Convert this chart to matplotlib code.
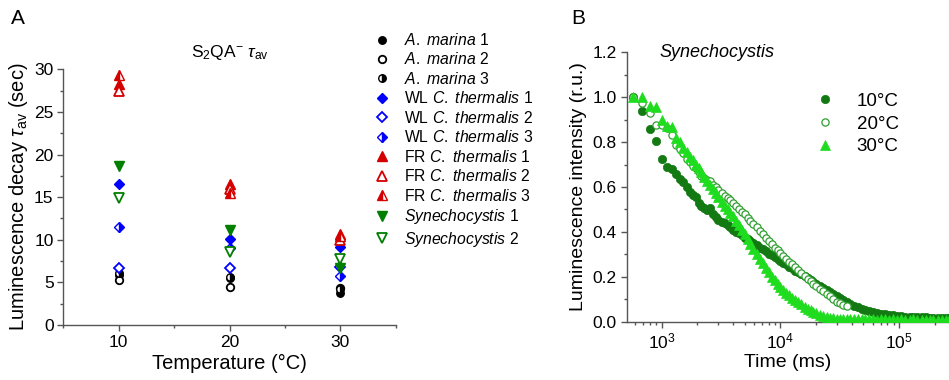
import matplotlib
matplotlib.use("Agg")
import matplotlib.pyplot as plt
from matplotlib.ticker import MultipleLocator, LogLocator, NullFormatter

plt.rcParams['font.family'] = ['Liberation Sans', 'DejaVu Sans']
plt.rcParams['mathtext.fontset'] = 'custom'
plt.rcParams['mathtext.rm'] = 'Liberation Sans'
plt.rcParams['mathtext.it'] = 'Liberation Sans:italic'
plt.rcParams['mathtext.bf'] = 'Liberation Sans:bold'

# ---------------- Panel A data ----------------
temps = [10, 20, 30]
am1 = [5.9, 5.5, 3.8]
am2 = [5.3, 4.5, 4.4]
am3 = [6.1, 5.6, 4.2]
wl1 = [16.6, 10.1, 9.1]
wl2 = [6.7, 6.7, 6.8]
wl3 = [11.5, 9.0, 5.7]
fr1 = [28.3, 16.6, 10.7]
fr2 = [27.5, 16.0, 10.0]
fr3 = [29.3, 15.5, 10.4]
syn1 = [18.6, 11.1, 6.7]
syn2 = [14.9, 8.6, 7.7]

labels_A = [r"$\it{A.\ marina}$ 1", r"$\it{A.\ marina}$ 2", r"$\it{A.\ marina}$ 3",
            r"WL $\it{C.\ thermalis}$ 1", r"WL $\it{C.\ thermalis}$ 2", r"WL $\it{C.\ thermalis}$ 3",
            r"FR $\it{C.\ thermalis}$ 1", r"FR $\it{C.\ thermalis}$ 2", r"FR $\it{C.\ thermalis}$ 3",
            r"$\it{Synechocystis}$ 1", r"$\it{Synechocystis}$ 2"]

# ---------------- Panel B data ----------------
time_ms = [570, 680, 790, 890, 1000, 1100, 1210, 1310, 1420, 1520,
           1630, 1730, 1840, 1940, 2050, 2150, 2260, 2400, 2550, 2700,
           2850, 3000, 3200, 3400, 3600, 3800, 4000, 4250, 4500, 4750,
           5000, 5300, 5600, 5900, 6300, 6700, 7100, 7500, 8000, 8500,
           9000, 9500, 10000, 10600, 11200, 11900, 12600, 13400, 14200, 15000,
           16000, 17000, 18000, 19000, 20000, 21500, 23000, 24500, 26000, 28000,
           30000, 32000, 34000, 36500, 39000, 42000, 45000, 49000, 52000, 55600,
           60000, 65000, 70000, 76000, 82000, 89000, 96000, 104000, 113000, 123000,
           132000, 143000, 155000, 168000, 181000, 195000, 213000, 230000, 250000, 265000]

lum_10C = [1.0, 0.94, 0.858, 0.806, 0.725, 0.688, 0.679, 0.66, 0.634, 0.624,
           0.60, 0.579, 0.565, 0.554, 0.53, 0.515, 0.505, 0.498, 0.505, 0.48,
           0.468, 0.455, 0.445, 0.44, 0.43, 0.423, 0.41, 0.40, 0.394, 0.385,
           0.375, 0.368, 0.358, 0.35, 0.34, 0.33, 0.322, 0.313, 0.303, 0.295,
           0.287, 0.279, 0.27, 0.262, 0.255, 0.245, 0.238, 0.228, 0.22, 0.212,
           0.203, 0.195, 0.185, 0.177, 0.17, 0.16, 0.15, 0.14, 0.132, 0.122,
           0.113, 0.104, 0.096, 0.087, 0.079, 0.071, 0.064, 0.057, 0.052, 0.047,
           0.043, 0.039, 0.036, 0.033, 0.03, 0.028, 0.026, 0.025, 0.023, 0.022,
           0.021, 0.02, 0.019, 0.019, 0.018, 0.018, 0.017, 0.017, 0.017, 0.016]

lum_20C = [1.0, 0.975, 0.93, 0.876, 0.878, 0.865, 0.83, 0.785, 0.77, 0.75,
           0.725, 0.71, 0.695, 0.685, 0.665, 0.65, 0.64, 0.632, 0.625, 0.61,
           0.60, 0.585, 0.572, 0.56, 0.55, 0.54, 0.53, 0.515, 0.50, 0.49,
           0.478, 0.463, 0.45, 0.437, 0.42, 0.405, 0.39, 0.375, 0.36, 0.345,
           0.33, 0.318, 0.305, 0.292, 0.28, 0.268, 0.256, 0.243, 0.23, 0.218,
           0.205, 0.192, 0.18, 0.17, 0.16, 0.147, 0.135, 0.123, 0.113, 0.10,
           0.09, 0.082, 0.075, 0.068]

lum_30C = [1.0, 1.0, 0.96, 0.955, 0.90, 0.872, 0.869, 0.82, 0.80, 0.775,
           0.755, 0.735, 0.72, 0.70, 0.685, 0.665, 0.645, 0.625, 0.61, 0.59,
           0.575, 0.555, 0.535, 0.515, 0.50, 0.485, 0.47, 0.45, 0.43, 0.41,
           0.39, 0.37, 0.345, 0.325, 0.30, 0.28, 0.26, 0.24, 0.22, 0.20,
           0.185, 0.17, 0.155, 0.142, 0.13, 0.118, 0.107, 0.097, 0.087, 0.077,
           0.067, 0.058, 0.05, 0.043, 0.037, 0.03, 0.025, 0.021, 0.018, 0.015,
           0.013, 0.012, 0.011, 0.011, 0.010, 0.011, 0.010, 0.010, 0.011, 0.010,
           0.010, 0.009, 0.010, 0.010, 0.009, 0.010, 0.009, 0.010, 0.009, 0.009,
           0.010, 0.009, 0.009, 0.009, 0.009, 0.008, 0.009, 0.009, 0.008, 0.009]

# ---------------- Figure ----------------
fig = plt.figure(figsize=(9.49, 3.8), dpi=100)
spine_c = '#555555'

axA = fig.add_axes([0.0667, 0.1447, 0.3503, 0.673])
blue, red, green, black = '#0000ff', '#d40000', '#007f00', '#000000'

styles = [
    (am1, 'o', black, 'full', 5.4),
    (am2, 'o', black, 'none', 5.4),
    (am3, 'o', black, 'right', 5.4),
    (wl1, 'D', blue, 'full', 5.4),
    (wl2, 'D', blue, 'none', 5.4),
    (wl3, 'D', blue, 'right', 5.4),
    (fr1, '^', red, 'full', 6.8),
    (fr2, '^', red, 'none', 6.8),
    (fr3, '^', red, 'left', 6.8),
    (syn1, 'v', green, 'full', 6.8),
    (syn2, 'v', green, 'none', 6.8),
]
handles = []
for (vals, mk, col, fs, ms), lab in zip(styles, labels_A):
    if fs == 'none':
        h, = axA.plot(temps, vals, ls='none', marker=mk, ms=ms, mec=col, mfc='white',
                      mew=1.3, label=lab, zorder=3)
    elif fs == 'full':
        h, = axA.plot(temps, vals, ls='none', marker=mk, ms=ms, mec=col, mfc=col,
                      mew=1.0, label=lab, zorder=3)
    else:
        h, = axA.plot(temps, vals, ls='none', marker=mk, ms=ms, mec=col, mfc=col,
                      fillstyle=fs, markerfacecoloralt='white', mew=1.0, label=lab, zorder=3)
    handles.append(h)

axA.set_xlim(5, 35)
axA.set_ylim(0, 30)
axA.set_xticks([10, 20, 30])
axA.xaxis.set_minor_locator(MultipleLocator(5))
axA.yaxis.set_major_locator(MultipleLocator(5))
axA.yaxis.set_minor_locator(MultipleLocator(2.5))
for s in ['top', 'right']:
    axA.spines[s].set_visible(False)
for s in ['left', 'bottom']:
    axA.spines[s].set_color(spine_c)
    axA.spines[s].set_linewidth(1.0)
axA.tick_params(which='major', direction='out', length=4, width=1, color=spine_c, labelsize=12.5, pad=3)
axA.tick_params(which='minor', direction='out', length=2.5, width=1, color=spine_c)
axA.set_xlabel("Temperature (°C)", fontsize=14.5, labelpad=3)
axA.set_ylabel(r"Luminescence decay $\tau_{\mathrm{av}}$ (sec)", fontsize=14.5, labelpad=3)
axA.set_title(r"S$_2$QA$^{\mathrm{-}}$ $\tau_{\mathrm{av}}$", fontsize=12.5, pad=9)

fig.legend(handles=handles, loc='upper left', bbox_to_anchor=(373 / 949, 1 - 32 / 380),
           frameon=False, fontsize=11.3, handlelength=1.2, handletextpad=0.8,
           labelspacing=0.22, borderpad=0.0, borderaxespad=0.0)

fig.text(18 / 949, 1 - 18 / 380, "A", fontsize=15, ha='center', va='center')
fig.text(578 / 949, 1 - 18 / 380, "B", fontsize=15, ha='center', va='center')

# ---------------- Panel B ----------------
axB = fig.add_axes([0.6604, 0.1534, 0.3396, 0.709])
c10, c20, c30 = '#137a13', '#2f9f2f', '#1fdc1f'
axB.plot(time_ms, lum_10C, ls='none', marker='o', ms=6.0, mfc=c10, mec=c10, mew=0.5,
         label='10°C', zorder=3)
axB.plot(time_ms[:len(lum_20C)], lum_20C, ls='none', marker='o', ms=5.2, mfc='white',
         mec=c20, mew=0.9, label='20°C', zorder=4)
axB.plot(time_ms, lum_30C, ls='none', marker='^', ms=6.8, mfc=c30, mec=c30, mew=0.5,
         label='30°C', zorder=5)
axB.set_xscale('log')
axB.set_xlim(507, 2.64e5)
axB.set_ylim(0, 1.2)
axB.yaxis.set_major_locator(MultipleLocator(0.2))
axB.yaxis.set_minor_locator(MultipleLocator(0.1))
axB.xaxis.set_major_locator(LogLocator(base=10, numticks=10))
axB.xaxis.set_minor_locator(LogLocator(base=10, subs=[2, 3, 4, 5, 6, 7, 8, 9], numticks=20))
axB.xaxis.set_minor_formatter(NullFormatter())
axB.yaxis.set_major_formatter(matplotlib.ticker.FormatStrFormatter('%.1f'))
for s in ['top', 'right']:
    axB.spines[s].set_visible(False)
for s in ['left', 'bottom']:
    axB.spines[s].set_color(spine_c)
    axB.spines[s].set_linewidth(1.0)
axB.tick_params(which='major', direction='out', length=4, width=1, color=spine_c, labelsize=12.5, pad=3)
axB.tick_params(which='minor', direction='out', length=2.5, width=1, color=spine_c)
axB.set_xlabel("Time (ms)", fontsize=14, labelpad=2)
axB.set_ylabel("Luminescence intensity (r.u.)", fontsize=14, labelpad=4)
axB.text(0.103, 1.0, "Synechocystis", transform=axB.transAxes, fontsize=13,
         style='italic', ha='left', va='center')
axB.legend(loc='upper left', bbox_to_anchor=(0.585, 0.85), frameon=False, fontsize=13.5,
           handlelength=1.0, handletextpad=1.2, labelspacing=0.3, borderpad=0.0,
           borderaxespad=0.0)

fig.savefig("out.png", dpi=100)
